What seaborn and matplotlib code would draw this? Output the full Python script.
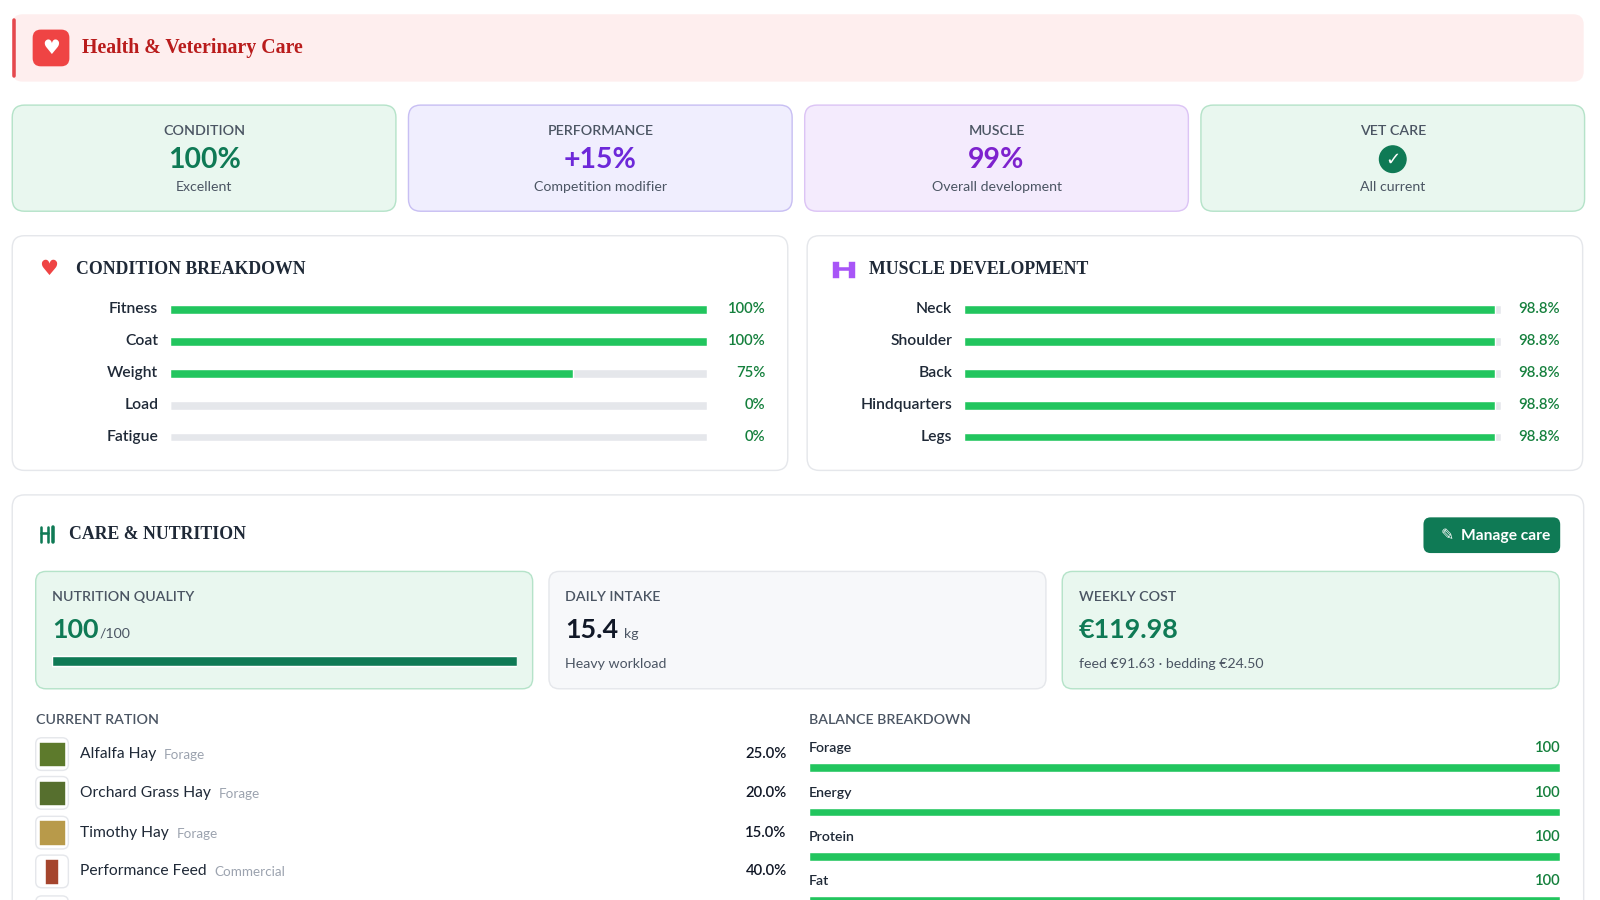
import matplotlib
matplotlib.use("Agg")
import matplotlib.pyplot as plt
from matplotlib.patches import FancyBboxPatch, Circle, Rectangle
import seaborn as sns
import pandas as pd

sns.set_theme(style="white")
plt.rcParams["font.family"] = ["Lato", "DejaVu Sans"]

# ---------------- data ----------------
kpi_titles = ["CONDITION", "PERFORMANCE", "MUSCLE", "VET CARE"]
kpi_values = ["100%", "+15%", "99%", ""]
kpi_subs = ["Excellent", "Competition modifier", "Overall development", "All current"]

cond_labels = ["Fitness", "Coat", "Weight", "Load", "Fatigue"]
cond_values = [100, 100, 75, 0, 0]

muscle_labels = ["Neck", "Shoulder", "Back", "Hindquarters", "Legs"]
muscle_values = [98.8, 98.8, 98.8, 98.8, 98.8]

nutrition_quality = 100
daily_intake = 15.4
weekly_cost = 119.98
feed_cost = 91.63
bedding_cost = 24.50

ration_names = ["Alfalfa Hay", "Orchard Grass Hay", "Timothy Hay", "Performance Feed"]
ration_types = ["Forage", "Forage", "Forage", "Commercial"]
ration_pct = [25.0, 20.0, 15.0, 40.0]

balance_labels = ["Forage", "Energy", "Protein", "Fat"]
balance_values = [100, 100, 100, 100]

GREEN = "#22c55e"
TRACK = "#e5e7eb"
DKGREEN = "#15803d"
TEXT = "#1f2937"
GREY = "#4b5563"
SERIF = ["Liberation Serif", "DejaVu Serif"]

# layout is laid out on a 1568 x 882 grid, saved at 1600 x 900
W, H = 1568, 882
fig = plt.figure(figsize=(W / 100, H / 100), dpi=100)
fig.patch.set_facecolor("white")
ax = fig.add_axes([0, 0, 1, 1])
ax.set_xlim(0, W)
ax.set_ylim(H, 0)
ax.axis("off")


def box(x, y, w, h, fc, ec, r=12, lw=1.0, z=1):
    ax.add_patch(FancyBboxPatch((x, y), w, h, boxstyle=f"round,pad=0,rounding_size={r}",
                                fc=fc, ec=ec, lw=lw, zorder=z))


def px_axes(x0, y0, w, h):
    a = fig.add_axes([x0 / W, 1 - (y0 + h) / H, w / W, h / H])
    a.axis("off")
    return a


def hbars(x0, y0, w, h, labels, values, color, thick, vmax=100):
    a = px_axes(x0, y0, w, h)
    df = pd.DataFrame({"label": labels, "value": values, "full": [vmax] * len(values)})
    sns.barplot(data=df, x="full", y="label", orient="h", color=TRACK, width=thick,
                ax=a, saturation=1)
    sns.barplot(data=df, x="value", y="label", orient="h", color=color, width=thick,
                ax=a, saturation=1)
    a.set_xlim(0, vmax)
    a.set_ylim(len(labels) - 0.5, -0.5)
    a.axis("off")
    return a


# ---------------- header ----------------
box(12, 14, 1540, 66, "#feeeee", "none", r=10)
ax.plot([14, 14], [20, 74], color="#e5484d", lw=2.5, solid_capstyle="round")
box(32, 29, 36, 36, "#ef4444", "none", r=8, z=2)
ax.text(50, 48, "♥", color="white", fontsize=14, ha="center", va="center",
        family=["DejaVu Sans"], zorder=3)
ax.text(80, 47, "Health & Veterinary Care", color="#b91c1c", fontsize=14,
        fontweight="bold", family=SERIF, va="center")

# ---------------- KPI cards ----------------
card_fc = ["#e9f7ef", "#f0eefe", "#f4ebfd", "#e9f7ef"]
card_ec = ["#b5e3c9", "#c8bff3", "#dcc4f5", "#b5e3c9"]
val_col = ["#0f7a55", "#6d28d9", "#7e22ce", "#0f7a55"]
for i in range(4):
    x = 12 + i * 388.3
    box(x, 103, 376, 104, card_fc[i], card_ec[i], r=12)
    cx = x + 188
    ax.text(cx, 128, kpi_titles[i], color=GREY, fontsize=10, ha="center", va="center",
            fontweight="semibold")
    if kpi_values[i]:
        ax.text(cx, 157, kpi_values[i], color=val_col[i], fontsize=20, ha="center",
                va="center", fontweight="bold")
    else:
        ax.add_patch(Circle((cx, 156), 13, color="#0f7a55", zorder=3))
        ax.text(cx, 157, "✓", color="white", fontsize=13, ha="center", va="center",
                family=["DejaVu Sans"], fontweight="bold", zorder=4)
    ax.text(cx, 183, kpi_subs[i], color=GREY, fontsize=10, ha="center", va="center")

# ---------------- breakdown panels ----------------
box(12, 231, 760, 230, "white", "#e5e7eb", r=12)
box(791, 231, 760, 230, "white", "#e5e7eb", r=12)
ax.text(48, 264, "♥", color="#ef4444", fontsize=15, ha="center", va="center",
        family=["DejaVu Sans"])
ax.text(74, 264, "CONDITION BREAKDOWN", color=TEXT, fontsize=12.5, fontweight="bold",
        family=SERIF, va="center")
# dumbbell
ax.add_patch(Rectangle((816, 257), 5, 14, color="#a855f7"))
ax.add_patch(Rectangle((832, 257), 5, 14, color="#a855f7"))
ax.plot([819, 834], [264, 264], color="#a855f7", lw=2.5)
ax.text(852, 264, "MUSCLE DEVELOPMENT", color=TEXT, fontsize=12.5, fontweight="bold",
        family=SERIF, va="center")

row_y = [303, 334, 366, 397, 428]
hbars(167, 288, 526, 156, cond_labels, cond_values, GREEN, 0.27)
for lab, v, y in zip(cond_labels, cond_values, row_y):
    ax.text(155, y, lab, color=TEXT, fontsize=11, ha="right", va="center", fontweight="semibold")
    ax.text(750, y, f"{v:.0f}%", color=DKGREEN, fontsize=10.5, ha="right", va="center",
            fontweight="semibold")

hbars(945, 288, 526, 156, muscle_labels, muscle_values, GREEN, 0.27)
for lab, v, y in zip(muscle_labels, muscle_values, row_y):
    ax.text(933, y, lab, color=TEXT, fontsize=11, ha="right", va="center", fontweight="semibold")
    ax.text(1529, y, f"{v:.1f}%", color=DKGREEN, fontsize=10.5, ha="right", va="center",
            fontweight="semibold")

# ---------------- care & nutrition ----------------
box(12, 485, 1540, 440, "white", "#e5e7eb", r=12)
ax.plot([40, 40], [516, 531], color="#0f7a55", lw=1.8)
ax.plot([47, 47], [516, 531], color="#0f7a55", lw=1.8)
ax.plot([40, 47], [522, 522], color="#0f7a55", lw=1.8)
ax.plot([52, 52], [516, 531], color="#0f7a55", lw=2.5)
ax.text(68, 524, "CARE & NUTRITION", color=TEXT, fontsize=12.5, fontweight="bold",
        family=SERIF, va="center")
box(1395, 507, 134, 35, "#0f7a55", "none", r=7, z=2)
ax.text(1418, 525, "✎", color="white", fontsize=11, ha="center", va="center",
        family=["DejaVu Sans"], zorder=3)
ax.text(1432, 525, "Manage care", color="white", fontsize=11, va="center",
        fontweight="bold", zorder=3)

# stat cards
box(35, 560, 487, 115, "#e9f7ef", "#b5e3c9", r=10)
box(538, 560, 487, 115, "#f7f8fa", "#e5e7eb", r=10)
box(1041, 560, 487, 115, "#e9f7ef", "#b5e3c9", r=10)
ax.text(51, 585, "NUTRITION QUALITY", color=GREY, fontsize=10, va="center", fontweight="semibold")
ax.text(51, 617, f"{nutrition_quality}", color="#0f7a55", fontsize=19, va="center",
        fontweight="bold")
ax.text(98, 621, "/100", color=GREY, fontsize=10, va="center")
hbars(51, 640, 456, 16, ["q"], [nutrition_quality], "#0f7a55", 0.6)

ax.text(554, 585, "DAILY INTAKE", color=GREY, fontsize=10, va="center", fontweight="semibold")
ax.text(554, 617, f"{daily_intake}", color="#111827", fontsize=19, va="center",
        fontweight="bold")
ax.text(612, 621, "kg", color=GREY, fontsize=10, va="center")
ax.text(554, 651, "Heavy workload", color=GREY, fontsize=10, va="center")

ax.text(1057, 585, "WEEKLY COST", color=GREY, fontsize=10, va="center", fontweight="semibold")
ax.text(1057, 617, f"€{weekly_cost:.2f}", color="#0f7a55", fontsize=19, va="center",
        fontweight="bold")
ax.text(1057, 651, f"feed €{feed_cost:.2f} · bedding €{bedding_cost:.2f}", color=GREY,
        fontsize=10, va="center")

# current ration
ax.text(35, 706, "CURRENT RATION", color=GREY, fontsize=10, va="center", fontweight="semibold")
icon_col = ["#5d7a2c", "#566f2e", "#b89a4a", "#a5452d"]
ration_y = [739, 777, 816, 854]
for n, t, p, y, c in zip(ration_names, ration_types, ration_pct, ration_y, icon_col):
    box(35, y - 16, 32, 32, "white", "#e5e7eb", r=6, z=2)
    if t == "Commercial":
        ax.add_patch(Rectangle((45, y - 11), 11, 22, color=c, zorder=3))
    else:
        ax.add_patch(Rectangle((39, y - 11), 24, 22, color=c, zorder=3))
    name = ax.text(78, y, n, color=TEXT, fontsize=11, va="center")
    fig.canvas.draw()
    bb = name.get_window_extent()
    ax.text(78 + bb.width + 8, y + 1, t, color="#9ca3af", fontsize=9.5, va="center")
    ax.text(771, y, f"{p:.1f}%", color="#111827", fontsize=10.5, ha="right", va="center",
            fontweight="semibold")
box(35, 878, 32, 32, "white", "#e5e7eb", r=6, z=2)

# balance breakdown
ax.text(793, 706, "BALANCE BREAKDOWN", color=GREY, fontsize=10, va="center", fontweight="semibold")
bal_y = [752, 796, 839, 882]
hbars(793, 730.5, 736, 174, balance_labels, balance_values, GREEN, 0.2)
for lab, v, y in zip(balance_labels, balance_values, bal_y):
    ax.text(793, y - 19, lab, color=TEXT, fontsize=10, va="center", fontweight="semibold")
    ax.text(1529, y - 19, f"{v}", color=DKGREEN, fontsize=10.5, ha="right", va="center",
            fontweight="semibold")

fig.savefig("out.png", dpi=100 * 1600 / W)
